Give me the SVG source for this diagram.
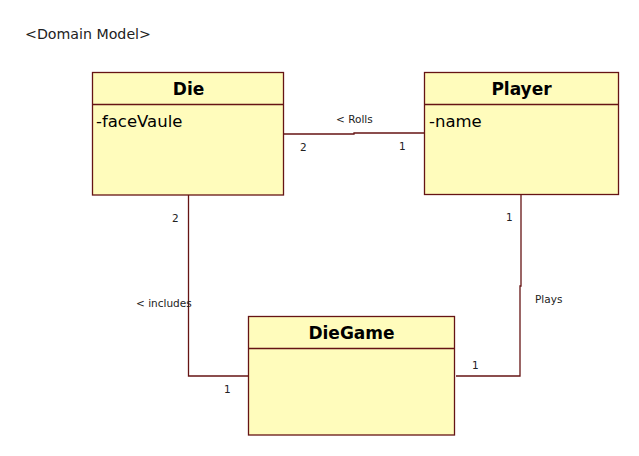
<svg xmlns="http://www.w3.org/2000/svg" width="639" height="456" viewBox="0 0 639 456">
<style>
.box{fill:#FFFCBC;stroke:#661414;stroke-width:1.3}
.div{stroke:#661414;stroke-width:1.3}
.conn{fill:none;stroke:#661414;stroke-width:1.3}
.title{font-family:"DejaVu Sans",Verdana,sans-serif;font-weight:bold;font-size:17px;fill:#000;text-anchor:middle}
.attr{font-family:"DejaVu Sans",Verdana,sans-serif;font-size:16.5px;fill:#000}
.lbl{font-family:"DejaVu Sans",Verdana,sans-serif;font-size:10.5px;fill:#222}
.hdr{font-family:"DejaVu Sans",Verdana,sans-serif;font-size:14.2px;fill:#222}
</style>
<rect width="639" height="456" fill="#fff"/>
<text class="hdr" x="25" y="39">&lt;Domain Model&gt;</text>
<g id="connectors">
<polyline class="conn" points="283,134 354,134 354,133 424,133"/>
<polyline class="conn" points="188.5,195 188.5,376 248,376"/>
<polyline class="conn" points="521,194 521,286 520,286 520,376 456,376"/>
<text class="lbl" x="336" y="123">&lt;  Rolls</text>
<text class="lbl" x="300" y="151">2</text>
<text class="lbl" x="399" y="150">1</text>
<text class="lbl" x="172" y="222">2</text>
<text class="lbl" x="136" y="307">&lt; includes</text>
<text class="lbl" x="224" y="393">1</text>
<text class="lbl" x="506" y="221">1</text>
<text class="lbl" x="535" y="303">Plays</text>
<text class="lbl" x="472" y="369">1</text>
</g>
<g id="Die">
<rect class="box" x="92.5" y="72.5" width="191" height="122.5"/>
<line class="div" x1="92.5" y1="104.5" x2="283.5" y2="104.5"/>
<text class="title" x="188.5" y="95">Die</text>
<text class="attr" x="96" y="127">-faceVaule</text>
</g>
<g id="Player">
<rect class="box" x="424.5" y="72.5" width="194" height="122"/>
<line class="div" x1="424.5" y1="104.5" x2="618.5" y2="104.5"/>
<text class="title" x="521.5" y="95">Player</text>
<text class="attr" x="429" y="127">-name</text>
</g>
<g id="DieGame">
<rect class="box" x="248.5" y="316.5" width="206" height="118.5"/>
<line class="div" x1="248.5" y1="348.5" x2="454.5" y2="348.5"/>
<text class="title" x="351.5" y="339">DieGame</text>
</g>
</svg>
